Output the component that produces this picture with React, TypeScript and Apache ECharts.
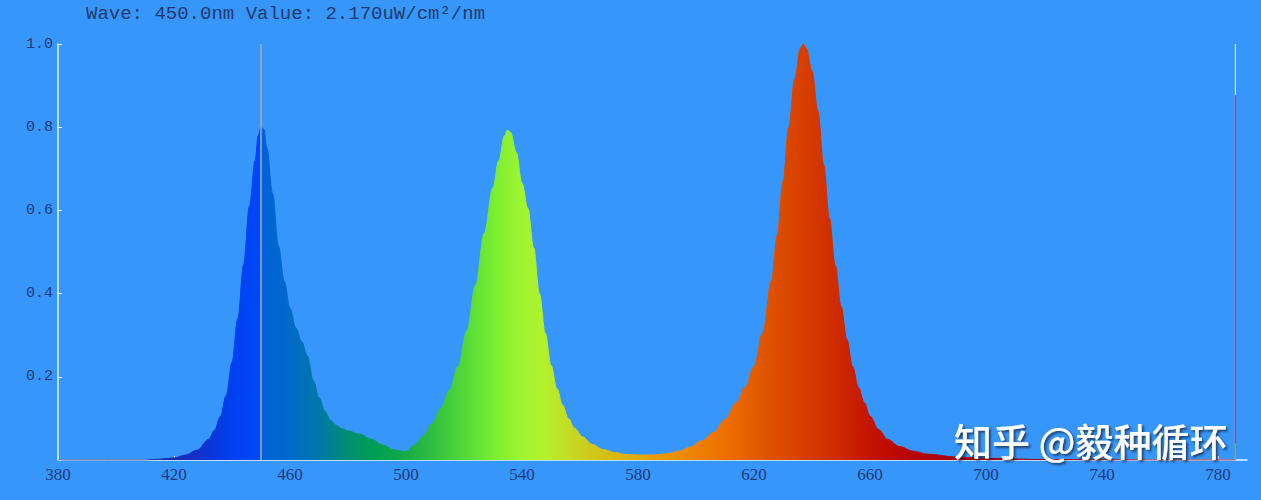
import React, { useEffect, useRef } from "react";
import * as echarts from "echarts";

const wavelengths = [
  380, 410, 415, 420, 424, 428, 432, 434, 436, 438, 440, 442, 444, 446, 448, 449, 450, 451, 452,
  454, 456, 458, 460, 462, 464, 466, 468, 470, 472, 474, 476, 478, 480, 484, 488, 492, 496, 500,
  503, 506, 509, 512, 515, 518, 521, 524, 527, 530, 532, 534, 535, 536, 538, 540, 542, 544, 546,
  548, 550, 552, 554, 556, 558, 561, 564, 568, 572, 576, 580, 585, 590, 594, 598, 602, 606, 610,
  614, 617, 620, 623, 626, 628, 630, 632, 634, 636, 637, 638, 640, 642, 644, 646, 648, 650, 652,
  654, 656, 658, 660, 663, 666, 670, 675, 680, 690, 700, 720, 760, 786,
];
const intensity = [
  0, 0, 0.002, 0.005, 0.012, 0.024, 0.05, 0.072, 0.105, 0.155, 0.235, 0.34, 0.47, 0.61, 0.72, 0.78, 0.8, 0.795, 0.75,
  0.64, 0.515, 0.43, 0.365, 0.318, 0.285, 0.25, 0.192, 0.15, 0.118, 0.095, 0.083, 0.075, 0.07, 0.062, 0.05, 0.036, 0.024, 0.02,
  0.037, 0.058, 0.088, 0.125, 0.168, 0.226, 0.31, 0.42, 0.545, 0.655, 0.72, 0.78, 0.793, 0.788, 0.74, 0.665, 0.605, 0.51, 0.4,
  0.305, 0.228, 0.172, 0.132, 0.1, 0.077, 0.055, 0.038, 0.025, 0.018, 0.013, 0.012, 0.012, 0.015, 0.021, 0.031, 0.046, 0.066, 0.097,
  0.138, 0.175, 0.225, 0.305, 0.43, 0.54, 0.67, 0.8, 0.915, 0.99, 1.0, 0.99, 0.935, 0.84, 0.71, 0.58, 0.468, 0.37, 0.29,
  0.225, 0.175, 0.138, 0.105, 0.073, 0.05, 0.033, 0.021, 0.014, 0.007, 0.004, 0.001, 0, 0,
];
const xTickValues = [380, 420, 460, 500, 540, 580, 620, 660, 700, 740, 780];
const cursorWave = 450;
const endWave = 786;
const endValue = 0.877;
const titleText = "Wave: 450.0nm Value: 2.170uW/cm\u00b2/nm";
const watermark = "知乎 @毅种循环";

// spectrum colour stops (wavelength, colour)
const colorStopWaves = [380, 415, 430, 440, 449.5, 450.5, 460, 470, 480, 490, 500, 510, 520, 530, 540, 548, 556, 566, 580, 600, 612, 622, 636, 648, 660, 672, 690, 790];
const colorStopColors = ["#1a2aa0", "#1a2aa8", "#1032d0", "#0040f0", "#0048f8", "#0062d8", "#006ac8", "#0078a8", "#008e70", "#00a050", "#18aa48", "#34c040", "#52d83a", "#78ee32", "#a0f530", "#b4f02c", "#c4dc24", "#d2c418", "#e2aa08", "#f08004", "#ec6c00", "#e05800", "#d84000", "#cf2c00", "#c41400", "#b80600", "#a80008", "#900010"];

const X_MIN = 380;
const X_MAX = 790;
const LEFT = 58;
const RIGHT = 14;
const W = 1261;

export default function App() {
  const ref = useRef<HTMLDivElement>(null);
  useEffect(() => {
    if (!ref.current) return;
    const chart = echarts.init(ref.current, undefined, { renderer: "svg" });
    const x0 = LEFT;
    const x1 = W - RIGHT;
    const stops = colorStopWaves.map((w, i) => ({
      offset: (w - X_MIN) / (X_MAX - X_MIN),
      color: colorStopColors[i],
    }));
    const gradient = new echarts.graphic.LinearGradient(x0, 0, x1, 0, stops, true);
    const lineGradient = new echarts.graphic.LinearGradient(x0, 0, x1, 0, stops, true);
    const spectrum = wavelengths.map((w, i) => [w, intensity[i]]);
    const axisColor = "#e4f2ff";
    const labelColor = "#1e3a78";
    chart.setOption({
      animation: false,
      backgroundColor: "#3796fa",
      grid: { left: LEFT, right: RIGHT, top: 44, bottom: 40 },
      xAxis: {
        type: "value",
        min: X_MIN,
        max: X_MAX,
        splitLine: { show: false },
        axisLine: { lineStyle: { color: axisColor, width: 1.5 } },
        axisTick: { inside: true, length: 4, lineStyle: { color: axisColor }, customValues: xTickValues },
        axisLabel: {
          color: labelColor,
          fontFamily: "Liberation Serif",
          fontSize: 17,
          margin: 6,
          customValues: xTickValues,
        },
      },
      yAxis: {
        type: "value",
        min: 0,
        max: 1,
        interval: 0.2,
        splitLine: { show: false },
        axisLine: { show: true, lineStyle: { color: axisColor, width: 1.5 } },
        axisTick: { show: true, inside: true, length: 4, lineStyle: { color: axisColor } },
        axisLabel: {
          color: labelColor,
          fontFamily: "Liberation Mono",
          fontSize: 15,
          margin: 5,
          formatter: (v: number) => (v === 0 ? "" : v.toFixed(1)),
        },
      },
      series: [
        {
          type: "line",
          data: spectrum,
          smooth: 0.35,
          smoothMonotone: "x",
          symbol: "none",
          lineStyle: { width: 1, color: lineGradient },
          areaStyle: { color: gradient, opacity: 1 },
          markLine: {
            silent: true,
            symbol: "none",
            label: { show: false },
            lineStyle: { color: "#a8aabb", width: 1.5, type: "solid" },
            data: [{ xAxis: cursorWave }],
          },
        },
        {
          type: "line",
          data: [[endWave, 0], [endWave, 1]],
          symbol: "none",
          lineStyle: { color: "#cfe6ff", width: 1.2 },
        },
        {
          type: "line",
          data: [[endWave, 0], [endWave, endValue]],
          symbol: "none",
          lineStyle: { color: "#9a4e74", width: 1.5 },
        },
        {
          type: "line",
          data: [[endWave, 0], [endWave, 0.04]],
          symbol: "none",
          lineStyle: { color: "#2ec8a8", width: 1.5 },
        },
      ],
      graphic: [
        {
          type: "text",
          left: 86,
          top: 4,
          style: {
            text: titleText,
            fill: "#213a6b",
            font: "19px 'Liberation Mono'",
          },
        },
        {
          type: "text",
          left: 954,
          top: 420,
          z: 100,
          style: {
            text: watermark,
            fill: "#ffffff",
            font: "500 38px 'Noto Sans CJK SC'",
            textShadowColor: "rgba(30,40,60,0.75)",
            textShadowBlur: 2,
            textShadowOffsetX: 2,
            textShadowOffsetY: 2,
          },
        },
      ],
    });
    return () => chart.dispose();
  }, []);
  return (
    <div
      ref={ref}
      style={{ position: "fixed", left: 0, top: 0, width: 1261, height: 500 }}
    />
  );
}
